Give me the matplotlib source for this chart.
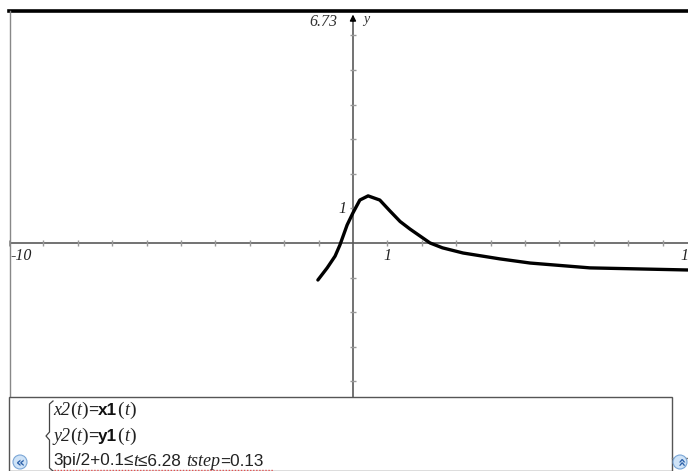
import matplotlib
matplotlib.use("Agg")
import matplotlib.pyplot as plt
from matplotlib.lines import Line2D
from matplotlib.patches import Rectangle, Circle
from matplotlib.offsetbox import TextArea, HPacker, AnnotationBbox

# ---- data ----
curve_x = [-1.02, -0.75, -0.52, -0.38, -0.17, 0.0, 0.2, 0.44, 0.78, 1.07, 1.37, 1.66, 2.24, 2.6, 3.2, 4.27, 5.15, 6.89, 9.71, 10.6]
curve_y = [-1.07, -0.72, -0.38, -0.06, 0.52, 0.87, 1.24, 1.36, 1.24, 0.93, 0.62, 0.40, 0.0, -0.14, -0.29, -0.46, -0.58, -0.72, -0.78, -0.79]
x_min, x_max = -10, 9.74
y_min, y_max = -4.45, 6.73
x_ticks = [v for v in range(-10, 10) if v != 0]
y_ticks = [v for v in range(-4, 7) if v != 0]

W, H = 688, 471
fig = plt.figure(figsize=(W / 100, H / 100), dpi=100)
fig.patch.set_facecolor("white")

def fy(y):  # top-based pixel -> figure fraction
    return (H - y) / H

def fx(x):
    return x / W

ax = fig.add_axes([fx(9), fy(397), fx(688) - fx(9), fy(10) - fy(397)])
ax.set_xlim(x_min, x_max)
ax.set_ylim(y_min, y_max)
for s in ax.spines.values():
    s.set_visible(False)
ax.set_xticks([])
ax.set_yticks([])
ax.patch.set_alpha(0)

axis_col = "#5a5a5a"
ax.axhline(0, color=axis_col, lw=1.2, zorder=1)
ax.plot([0, 0], [y_min, y_max - 0.2], color=axis_col, lw=1.2, zorder=1)
ax.annotate("", xy=(0, y_max - 0.05), xytext=(0, y_max - 0.4),
            arrowprops=dict(arrowstyle="-|>", color="black", lw=1.0, mutation_scale=9))
ax.plot(x_ticks, [0] * len(x_ticks), linestyle="none", marker="|", ms=4, mew=1.0, color="#999999", zorder=2)
ax.plot([0] * len(y_ticks), y_ticks, linestyle="none", marker="_", ms=4, mew=1.0, color="#999999", zorder=2)

ax.plot(curve_x, curve_y, color="black", lw=2.4, solid_capstyle="round", solid_joinstyle="round", zorder=3)

serif_it = dict(family="Liberation Serif", style="italic")
ax.text(-0.45, 6.38, "6.73", ha="right", va="center", fontsize=11.5, color="#333333", **serif_it)
ax.text(0.3, 6.45, "y", ha="left", va="center", fontsize=10, color="#333333", **serif_it)
ax.text(-9.95, -0.38, "-10", ha="left", va="center", fontsize=11.5, color="#222222", **serif_it)
ax.text(1.0, -0.38, "1", ha="center", va="center", fontsize=11.5, color="#222222", **serif_it)
ax.text(-0.3, 0.97, "1", ha="center", va="center", fontsize=11.5, color="#222222", **serif_it)
ax.text(9.65, -0.38, "1", ha="center", va="center", fontsize=11.5, color="#222222", **serif_it)

# top black bar and left border
fig.add_artist(Line2D([fx(9), 1], [fy(11), fy(11)], color="black", lw=2.6))
fig.add_artist(Line2D([fx(9.5), fx(9.5)], [fy(11), 0], color="#888888", lw=1.0))

# bottom panel
fig.add_artist(Rectangle((fx(9), 0), fx(672) - fx(9), fy(397), facecolor="white",
                         edgecolor="#555555", lw=1.0, zorder=5))
fig.add_artist(Line2D([fx(672), 1], [fy(458), fy(458)], color="#777777", lw=1.0, zorder=6))

# brace
fig.add_artist(Line2D([fx(53), fx(49.5), fx(49.5), fx(46), fx(49.5), fx(49.5), fx(53)],
                      [fy(401), fy(404), fy(432), fy(436), fy(440), fy(468), fy(471)],
                      color="#444444", lw=0.9, zorder=7))

def line(pieces, x, y):
    boxes = []
    for txt, props in pieces:
        boxes.append(TextArea(txt, textprops=props))
    pack = HPacker(children=boxes, align="baseline", pad=0, sep=0)
    ab = AnnotationBbox(pack, (x, y), xycoords="figure pixels", box_alignment=(0, 0.5),
                        frameon=False, pad=0, zorder=8)
    fig.add_artist(ab)

it = dict(family="Liberation Serif", style="italic", fontsize=13, color="#222222")
rm = dict(family="Liberation Serif", fontsize=14, color="#222222")
sans = dict(family="Liberation Sans", fontsize=12.3, color="#222222")
bold = dict(family="Liberation Sans", fontsize=12.3, weight="bold", color="#111111")

line([("x2", it), ("(", rm), ("t", it), (")", rm), ("=", sans), ("x1", bold), ("(", rm), ("t", it), (")", rm)],
     53, H - 410)
line([("y2", it), ("(", rm), ("t", it), (")", rm), ("=", sans), ("y1", bold), ("(", rm), ("t", it), (")", rm)],
     53, H - 436)
line([("3pi/2+0.1≤", sans), ("t", it), ("≤6.28 ", sans), ("tstep", it), ("=0.13", sans)],
     53, H - 461)

fig.add_artist(Line2D([fx(54), fx(273)], [fy(469.5), fy(469.5)], color="#e05050", lw=1.0,
                      linestyle=(0, (1, 1.2)), zorder=8))

# icons
for cx, rot in [(20, 0), (680, -90)]:
    fig.add_artist(Circle((cx, H - 462), 7, transform=None, facecolor="#cfe3f7",
                          edgecolor="#7aa6d6", lw=0.8, zorder=9))
    fig.text(fx(cx), fy(462.5), "«", ha="center", va="center", fontsize=10, weight="bold",
             color="#2a5fa8", rotation=rot, zorder=10, family="DejaVu Sans")

fig.savefig("out.png", dpi=100)
